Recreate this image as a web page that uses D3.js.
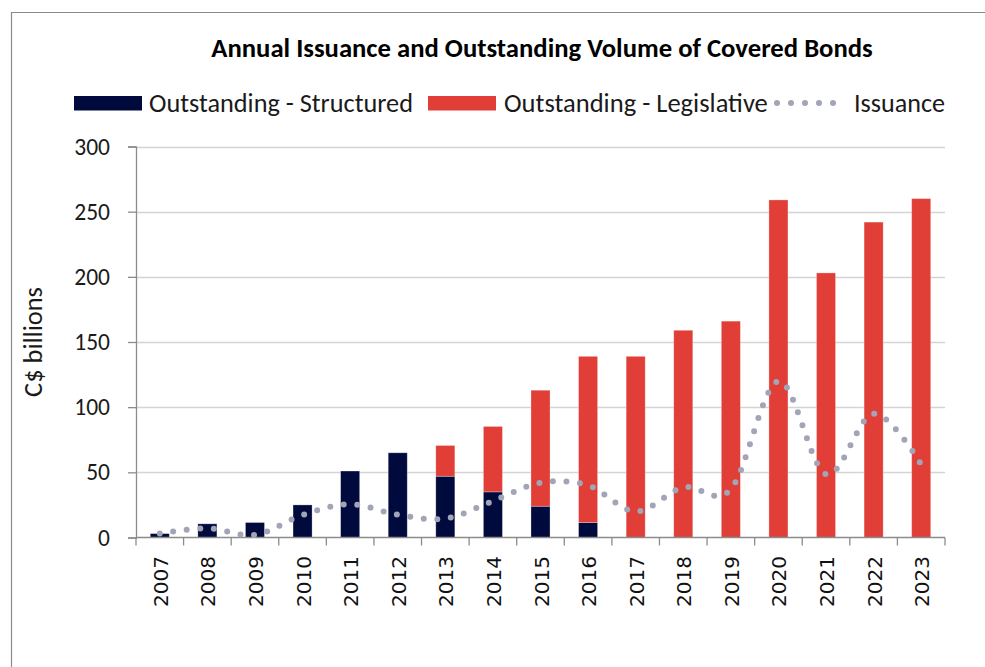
<!DOCTYPE html>
<html>
<head>
<meta charset="utf-8">
<script src="https://cdn.jsdelivr.net/npm/d3@7"></script>
<style>
  html, body { margin: 0; padding: 0; background: #fff; }
  svg { display: block; }
</style>
</head>
<body>
<svg id="chart" width="985" height="667"></svg>
<script>
// ---- data ----
const years = ["2007","2008","2009","2010","2011","2012","2013","2014","2015","2016","2017","2018","2019","2020","2021","2022","2023"];
const structured = [3, 10.5, 11.5, 25, 51, 65, 47, 35, 24, 11.5, 0, 0, 0, 0, 0, 0, 0];
const legislative = [0, 0, 0, 0, 0, 0, 23.6, 50.2, 89, 127.5, 139, 159, 166, 259, 203, 242, 260];
const issuance = [3, 7, 2, 17.3, 25.5, 17.5, 14.5, 28, 42, 40, 20, 38.5, 37, 120, 48.5, 95, 56];
const yTicks = [0, 50, 100, 150, 200, 250, 300];
const title = "Annual Issuance and Outstanding Volume of Covered Bonds";
const legendLabels = ["Outstanding - Structured", "Outstanding - Legislative", "Issuance"];
const yTitle = "C$ billions";

// ---- styles ----
const NAVY = "#000a3c", RED = "#e03e36", DOT = "#a2a5b7";
const FONT = "Carlito, Lato, 'Liberation Sans', sans-serif";
const TICKFONT = "'DejaVu Sans', Verdana, sans-serif";

const svg = d3.select("#chart");
const L = 136, R = 945, T = 146.5, B = 537.5;

const x = d3.scaleBand().domain(years).range([L, R]).padding(0);
const y = d3.scaleLinear().domain([0, 300]).range([B, T]);
const bw = x.bandwidth() / 2.5;

function fit(sel, target) {
  const w = sel.node().getComputedTextLength();
  const fs = parseFloat(sel.attr("font-size"));
  if (w > 0) sel.attr("font-size", fs * target / w);
  return sel;
}

// frame
svg.append("path")
  .attr("d", "M11.5,667 L11.5,12.5 L985,12.5")
  .attr("fill", "none").attr("stroke", "#8a8a8a").attr("stroke-width", 1.2);

// gridlines
svg.append("g").selectAll("line").data(yTicks.filter(d => d > 0)).join("line")
  .attr("x1", L).attr("x2", R)
  .attr("y1", d => Math.round(y(d)) + 0.5).attr("y2", d => Math.round(y(d)) + 0.5)
  .attr("stroke", "#d4d4d4").attr("stroke-width", 1.5);

// bars
const stacked = years.map((yr, i) => ({ yr, s: structured[i], l: legislative[i] }));
const gb = svg.append("g");
gb.selectAll("rect.s").data(stacked.filter(d => d.s > 0)).join("rect")
  .attr("class", "s")
  .attr("x", d => x(d.yr) + (x.bandwidth() - bw) / 2)
  .attr("width", bw)
  .attr("y", d => y(d.s))
  .attr("height", d => y(0) - y(d.s))
  .attr("fill", NAVY).attr("stroke", "rgba(255,255,255,0.35)").attr("stroke-width", 0.8);
gb.selectAll("rect.l").data(stacked.filter(d => d.l > 0)).join("rect")
  .attr("class", "l")
  .attr("x", d => x(d.yr) + (x.bandwidth() - bw) / 2)
  .attr("width", bw)
  .attr("y", d => y(d.s + d.l))
  .attr("height", d => y(d.s) - y(d.s + d.l))
  .attr("fill", RED).attr("stroke", "rgba(255,255,255,0.35)").attr("stroke-width", 0.8);

// axes
const yAxis = svg.append("g").attr("transform", `translate(${L},0)`)
  .call(d3.axisLeft(y).tickValues(yTicks).tickSize(8).tickPadding(18).tickFormat(d3.format("d")));
yAxis.select(".domain").attr("stroke", "#8c8c8c").attr("stroke-width", 1.3);
yAxis.selectAll(".tick line").attr("stroke", "#8c8c8c").attr("stroke-width", 1.3);
yAxis.selectAll(".tick text").attr("font-family", FONT).attr("font-size", 23.5).attr("fill", "#1a1a1a");

const xg = svg.append("g");
xg.append("line").attr("x1", L).attr("x2", R).attr("y1", B).attr("y2", B)
  .attr("stroke", "#8c8c8c").attr("stroke-width", 1.3);
const bounds = years.map(d => x(d)).concat([x(years[years.length - 1]) + x.bandwidth()]);
xg.selectAll("line.t").data(bounds).join("line").attr("class", "t")
  .attr("x1", d => d).attr("x2", d => d).attr("y1", B).attr("y2", B + 8)
  .attr("stroke", "#8c8c8c").attr("stroke-width", 1.3);
xg.selectAll("text").data(years).join("text")
  .attr("transform", d => `translate(${x(d) + x.bandwidth() / 2 + 1},556) rotate(-90)`)
  .attr("text-anchor", "end").attr("dominant-baseline", "central")
  .attr("font-family", TICKFONT).attr("font-size", 20).attr("fill", "#111")
  .text(d => d);

// issuance dotted smooth line
const line = d3.line()
  .x((d, i) => x(years[i]) + x.bandwidth() / 2)
  .y(d => y(d))
  .curve(d3.curveCardinal.tension(0));
svg.append("path").datum(issuance)
  .attr("d", line)
  .attr("fill", "none").attr("stroke", DOT).attr("stroke-width", 6)
  .attr("stroke-linecap", "round").attr("stroke-dasharray", "0 13.6");

// title
const tt = svg.append("text").attr("x", 542).attr("y", 57).attr("text-anchor", "middle")
  .attr("font-family", FONT).attr("font-weight", "bold").attr("font-size", 21).attr("fill", "#000")
  .text(title);
fit(tt, 662);

// legend
const lg = svg.append("g");
lg.append("rect").attr("x", 74).attr("y", 96).attr("width", 68).attr("height", 14.5).attr("fill", NAVY);
const l1 = lg.append("text").attr("x", 149).attr("y", 112).attr("font-family", FONT).attr("font-size", 22).attr("fill", "#1a1a1a").text(legendLabels[0]);
fit(l1, 264);
lg.append("rect").attr("x", 428).attr("y", 96).attr("width", 68).attr("height", 14.5).attr("fill", RED);
const l2 = lg.append("text").attr("x", 504).attr("y", 112).attr("font-family", FONT).attr("font-size", 22).attr("fill", "#1a1a1a").text(legendLabels[1]);
fit(l2, 264);
lg.append("line").attr("x1", 777).attr("x2", 834).attr("y1", 103).attr("y2", 103)
  .attr("stroke", DOT).attr("stroke-width", 6).attr("stroke-linecap", "round").attr("stroke-dasharray", "0 14");
const l3 = lg.append("text").attr("x", 854).attr("y", 112).attr("font-family", FONT).attr("font-size", 22).attr("fill", "#1a1a1a").text(legendLabels[2]);
fit(l3, 91);

// y title
const yt = svg.append("text").attr("transform", "translate(42,342) rotate(-90)")
  .attr("text-anchor", "middle").attr("font-family", FONT).attr("font-size", 21).attr("fill", "#1a1a1a")
  .text(yTitle);
fit(yt, 110);
</script>
</body>
</html>
